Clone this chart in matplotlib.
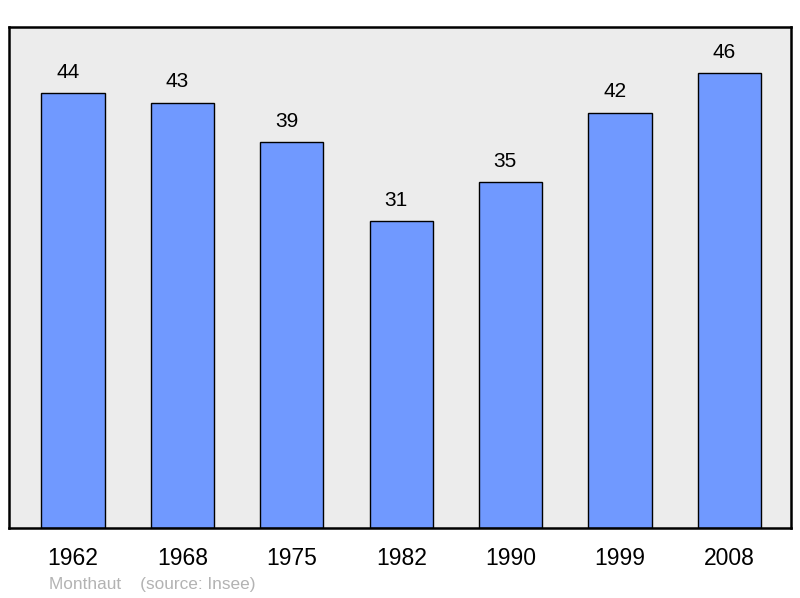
import matplotlib.pyplot as plt
import numpy as np

# données population
annees = ['1962', '1968', '1975', '1982', '1990', '1999', '2008']
population = [44, 43, 39, 31, 35, 42, 46]
source = 'Monthaut    (source: Insee)'

plt.rcParams['font.family'] = ['Liberation Sans', 'DejaVu Sans']

fig = plt.figure(figsize=(8, 5.98), dpi=100)
ax = fig.add_axes([9/800, 70/598, 782/800, 501/598])
ax.set_facecolor('#ececec')

x = np.arange(len(annees))
barres = ax.bar(x, population, width=0.576, color='#7099ff', edgecolor='black', linewidth=1.0)

# étiquettes un peu décalées à gauche comme dans l'original
for xi, val in zip(x, population):
    ax.annotate(str(val), (xi, val), xytext=(-3.8, 11), textcoords='offset points',
                ha='center', va='baseline', fontsize=15)

ax.set_xlim(-0.585, 6.563)
ax.set_ylim(0, 50.65)
ax.set_xticks(x)
ax.set_xticklabels(annees, fontsize=16.5)
ax.tick_params(axis='x', length=0, pad=13.5)
ax.set_yticks([])
for s in ax.spines.values():
    s.set_linewidth(1.8)
    s.set_color('black')

fig.text(49/800, 1 - 585/598, source, ha='left', va='center', fontsize=12.4, color='#b3b3b3')

fig.savefig('out.png', dpi=100)
